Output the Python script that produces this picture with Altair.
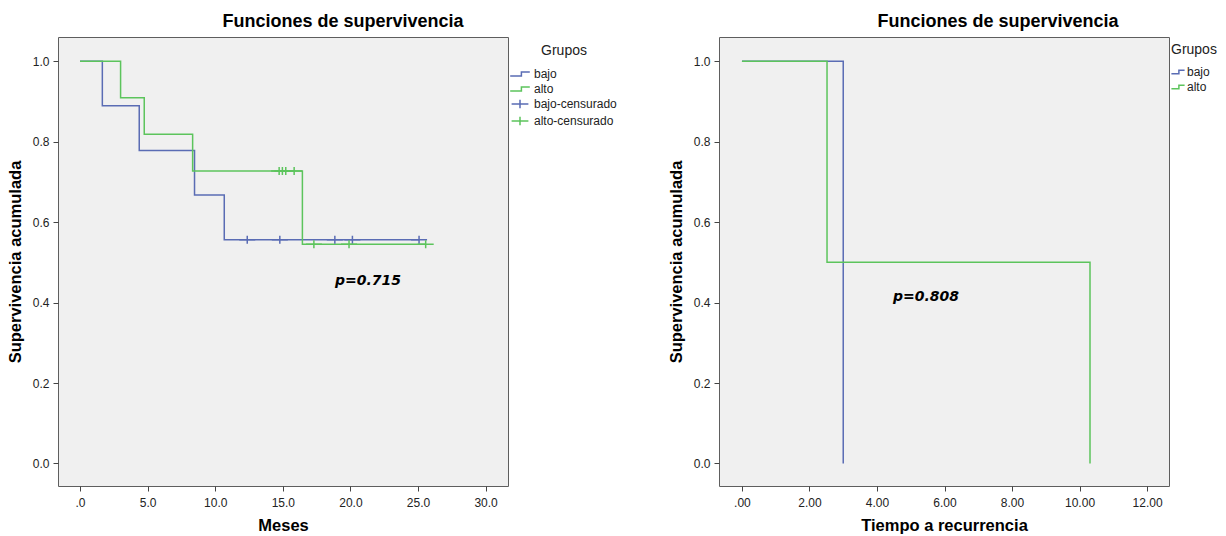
import altair as alt
import pandas as pd

BLUE = "#5a6cb4"
GREEN = "#5cc45c"
FONT = "Liberation Sans"

STEP = "M-1.4,0.28H0.2V-0.28H1.4"
STEP_R = "M-1.1,0.3H0.15V-0.3H1.1"
PLUS = "M0,-0.6V0.6M-1.2,0H1.2"

# ---------------- left panel: Meses ----------------
grupos = ["bajo", "alto", "bajo-censurado", "alto-censurado"]

bajo_t = [0, 1.65, 4.38, 8.47, 10.67, 25.08]
bajo_s = [1.0, 0.889, 0.778, 0.667, 0.556, 0.556]
alto_t = [0, 3.0, 4.75, 8.33, 16.45, 25.57]
alto_s = [1.0, 0.909, 0.818, 0.727, 0.545, 0.545]

bajo_cens_t = [12.37, 14.78, 18.85, 20.15, 25.08]
bajo_cens_s = [0.556, 0.556, 0.556, 0.556, 0.556]
alto_cens_t = [14.73, 14.97, 15.22, 15.84, 17.3, 19.9, 25.57]
alto_cens_s = [0.727, 0.727, 0.727, 0.727, 0.545, 0.545, 0.545]

p_left = "p=0.715"
p_left_pos = (21.3, 0.453)

# ---------------- right panel: Tiempo a recurrencia ----------------
r_grupos = ["bajo", "alto"]
r_bajo_t = [0, 3.0]
r_bajo_s = [1.0, 0.0]
r_alto_t = [0, 2.52, 10.31]
r_alto_s = [1.0, 0.5, 0.0]

p_right = "p=0.808"
p_right_pos = (5.45, 0.413)

x_left_ticks = [0, 5, 10, 15, 20, 25, 30]
x_right_ticks = [0, 2, 4, 6, 8, 10, 12]
y_ticks = [0.0, 0.2, 0.4, 0.6, 0.8, 1.0]

# ---------------- tables ----------------
left_lines = pd.DataFrame(
    {"t": bajo_t + alto_t, "s": bajo_s + alto_s,
     "grupo": ["bajo"] * len(bajo_t) + ["alto"] * len(alto_t),
     "i": list(range(len(bajo_t))) + list(range(len(alto_t)))}
)
left_cens = pd.DataFrame(
    {"t": bajo_cens_t + alto_cens_t, "s": bajo_cens_s + alto_cens_s,
     "grupo": ["bajo-censurado"] * len(bajo_cens_t) + ["alto-censurado"] * len(alto_cens_t)}
)
right_lines = pd.DataFrame(
    {"t": r_bajo_t + r_alto_t, "s": r_bajo_s + r_alto_s,
     "grupo": ["bajo"] * len(r_bajo_t) + ["alto"] * len(r_alto_t),
     "i": list(range(len(r_bajo_t))) + list(range(len(r_alto_t)))}
)


def yaxis():
    return alt.Y(
        "s:Q",
        scale=alt.Scale(domain=[-0.056, 1.06], nice=False, zero=False),
        axis=alt.Axis(values=y_ticks, format=".1f", title="Supervivencia acumulada",
                      titlePadding=9),
    )


W, H = 450, 449

x_left = alt.X(
    "t:Q",
    scale=alt.Scale(domain=[-1.63, 31.66], nice=False, zero=False),
    axis=alt.Axis(values=x_left_ticks, title="Meses",
                  labelExpr="datum.value == 0 ? '.0' : format(datum.value, '.1f')"),
)

left_legend = dict(title="Grupos", orient="none", legendX=454, legendY=7,
                   symbolSize=196, symbolStrokeWidth=1.5, symbolFillColor="transparent",
                   labelOffset=6, rowPadding=1, titleAnchor="middle")

color_left = alt.Color(
    "grupo:N",
    scale=alt.Scale(domain=grupos, range=[BLUE, GREEN, BLUE, GREEN]),
    legend=alt.Legend(**left_legend),
)
shape_left = alt.Shape(
    "grupo:N",
    scale=alt.Scale(domain=grupos, range=[STEP, STEP, PLUS, PLUS]),
    legend=alt.Legend(**left_legend),
)

l_line = alt.Chart(left_lines).mark_line(interpolate="step-after", strokeWidth=1.5).encode(
    x=x_left, y=yaxis(), color=color_left, order="i:Q"
)
l_cens = alt.Chart(left_cens).mark_point(filled=False, size=178, strokeWidth=1.5, opacity=1).encode(
    x=x_left, y=yaxis(), color=color_left, shape=shape_left
)
l_text = alt.Chart(pd.DataFrame({"t": [p_left_pos[0]], "s": [p_left_pos[1]], "lab": [p_left]})).mark_text(
    font="DejaVu Sans", fontSize=14, fontWeight="bold", fontStyle="italic", color="black"
).encode(x=x_left, y=yaxis(), text="lab:N")

left = alt.layer(l_line, l_cens, l_text).properties(
    width=W, height=H,
    title=alt.TitleParams("Funciones de supervivencia", dx=60),
)

x_right = alt.X(
    "t:Q",
    scale=alt.Scale(domain=[-0.68, 12.65], nice=False, zero=False),
    axis=alt.Axis(values=x_right_ticks, title="Tiempo a recurrencia",
                  labelExpr="datum.value == 0 ? '.00' : format(datum.value, '.2f')"),
)
color_right = alt.Color(
    "grupo:N",
    scale=alt.Scale(domain=r_grupos, range=[BLUE, GREEN]),
    legend=alt.Legend(title="Grupos", orient="none", legendX=452, legendY=6,
                      symbolType=STEP_R, symbolSize=144, symbolStrokeWidth=1.5,
                      symbolFillColor="transparent", labelOffset=2, rowPadding=2,
                      titleAnchor="start"),
)
r_line = alt.Chart(right_lines).mark_line(interpolate="step-after", strokeWidth=1.5).encode(
    x=x_right, y=yaxis(), color=color_right, order="i:Q"
)
r_text = alt.Chart(pd.DataFrame({"t": [p_right_pos[0]], "s": [p_right_pos[1]], "lab": [p_right]})).mark_text(
    font="DejaVu Sans", fontSize=14, fontWeight="bold", fontStyle="italic", color="black"
).encode(x=x_right, y=yaxis(), text="lab:N")

right = alt.layer(r_line, r_text).properties(
    width=W, height=H,
    title=alt.TitleParams("Funciones de supervivencia", dx=54),
)

chart = (
    alt.hconcat(left, right, spacing=49)
    .resolve_scale(x="independent", y="independent", color="independent", shape="independent")
    .resolve_legend(color="independent", shape="independent")
    .properties(padding={"left": 6, "top": 12, "right": 0, "bottom": 0}, background="white")
    .configure_view(fill="#f0f0f0", stroke="#5e5e5e", strokeWidth=1)
    .configure_axis(
        domain=False, grid=False, ticks=True, tickSize=5, tickColor="#444444",
        labelFont=FONT, labelFontSize=12, labelColor="#222222", labelPadding=4,
        titleFont=FONT, titleFontSize=16.5, titleFontWeight="bold", titleColor="black",
        titlePadding=12,
    )
    .configure_axisX(labelPadding=6, titlePadding=9)
    .configure_legend(
        titleFont=FONT, titleFontSize=14, titleFontWeight="normal",
        titleColor="#222222", labelFont=FONT, labelFontSize=12,
        labelColor="#222222", titlePadding=8, padding=0,
    )
    .configure_title(font=FONT, fontSize=18, fontWeight="bold", color="black", offset=6)
)

chart.save("out.html", embed_options={"renderer": "svg", "actions": False})
